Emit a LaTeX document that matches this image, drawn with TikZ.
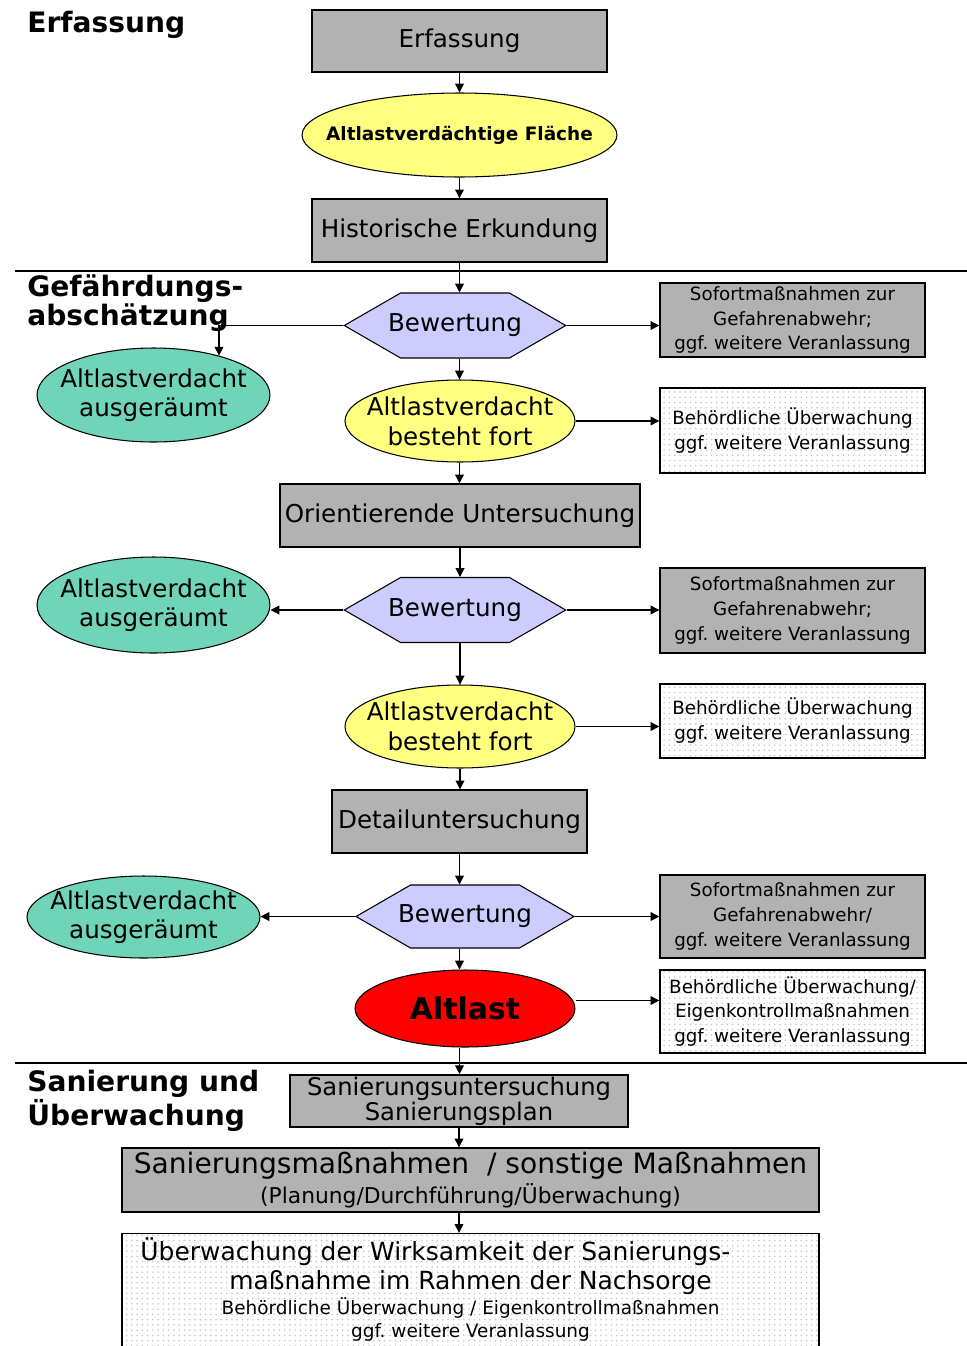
\documentclass[tikz,border=0pt]{standalone}
\usepackage{fontspec}
\setmainfont{DejaVu Sans}
\usetikzlibrary{shapes.geometric,shapes.symbols,arrows.meta,patterns}

\definecolor{boxgray}{RGB}{178,178,178}
\definecolor{ellyellow}{RGB}{255,255,128}
\definecolor{ellgreen}{RGB}{112,212,184}
\definecolor{hexblue}{RGB}{204,204,255}
\definecolor{altred}{RGB}{255,0,0}

\tikzstyle{grau}=[rectangle, draw=black, line width=0.8pt, fill=boxgray, align=center, inner sep=1pt]
\tikzstyle{gepunktet}=[rectangle, draw=black, line width=0.8pt, fill=white,
        postaction={pattern=dots, pattern color=gray!45}, align=center, inner sep=1pt]
\tikzstyle{klein}=[font=\fontsize{10.4}{14.2}\selectfont, minimum width=5.3cm]
\tikzstyle{gelb}=[ellipse, draw=black, line width=0.6pt, fill=ellyellow, align=center,
        inner xsep=-20pt, inner ysep=0pt]
\tikzstyle{gruen}=[ellipse, draw=black, line width=0.6pt, fill=ellgreen, align=center,
        inner xsep=-20pt, inner ysep=0pt, font=\fontsize{14}{16.5}\selectfont, minimum width=4.66cm]
\tikzstyle{bewertung}=[signal, signal to=west and east, signal pointer angle=60, draw=black,
        line width=0.6pt, fill=hexblue, minimum height=1.3cm, inner xsep=-7.1pt, inner ysep=0pt]
\tikzstyle{titel}=[anchor=north west, align=left, inner sep=0pt, font=\bfseries\fontsize{16}{15.5}\selectfont]
\tikzstyle{myarrow}=[-{Triangle[length=5pt,width=5pt]}, line width=0.6pt]
\tikzstyle{trenner}=[-, line width=1.6pt]

\begin{document}
\frenchspacing
\begin{tikzpicture}[x=0.02cm, y=-0.02cm, font=\fontsize{14}{17}\selectfont]
    \useasboundingbox (0,0) rectangle (967,1346);

    % Erfassung
    \node (TitelErfassung) [titel] at (27,11) {Erfassung};
    \node (Erfassung) [grau, minimum width=5.9cm, minimum height=1.24cm] at (459.5,41) {Erfassung};
    \node (Flaeche) [gelb, minimum width=6.3cm, minimum height=1.68cm, font=\bfseries\fontsize{10.5}{12}\selectfont]
        at (459.5,135) {Altlastverdächtige Fläche};
    \node (Historisch) [grau, minimum width=5.9cm, minimum height=1.26cm] at (459.5,230.5) {Historische Erkundung};

    \draw[trenner] (15,271) -- (967,271);

    % Gefaehrdungsabschaetzung
    \node (TitelGefahr) [titel] at (27,274) {Gefährdungs-\\abschätzung};

    \node (Bewertung1) [bewertung] at (455,325.5) {Bewertung};
    \node (Ausgeraeumt1) [gruen, minimum height=1.88cm] at (153.5,395) {Altlastverdacht\\ausgeräumt};
    \node (Sofort1) [grau, klein, minimum height=1.48cm] at (792.5,320)
        {Sofortmaßnahmen zur\\Gefahrenabwehr;\\ggf. weitere Veranlassung};
    \node (Fort1) [gelb, minimum width=4.6cm, minimum height=1.64cm] at (460,421) {Altlastverdacht\\besteht fort};
    \node (Behoerde1) [gepunktet, klein, minimum height=1.7cm] at (792.5,430.5)
        {Behördliche Überwachung\\ggf. weitere Veranlassung};

    \node (Orientierend) [grau, minimum width=7.2cm, minimum height=1.26cm] at (460,515.5) {Orientierende Untersuchung};

    \node (Bewertung2) [bewertung] at (455,610) {Bewertung};
    \node (Ausgeraeumt2) [gruen, minimum height=1.92cm] at (153.5,605) {Altlastverdacht\\ausgeräumt};
    \node (Sofort2) [grau, klein, minimum height=1.7cm] at (792.5,610.5)
        {Sofortmaßnahmen zur\\Gefahrenabwehr;\\ggf. weitere Veranlassung};
    \node (Fort2) [gelb, minimum width=4.6cm, minimum height=1.66cm] at (460,726.5) {Altlastverdacht\\besteht fort};
    \node (Behoerde2) [gepunktet, klein, minimum height=1.48cm] at (792.5,721)
        {Behördliche Überwachung\\ggf. weitere Veranlassung};

    \node (Detail) [grau, minimum width=5.1cm, minimum height=1.26cm] at (459.5,821.5) {Detailuntersuchung};

    \node (Bewertung3) [bewertung, minimum height=1.26cm] at (465,916.5) {Bewertung};
    \node (Ausgeraeumt3) [gruen, minimum height=1.64cm] at (143.5,917) {Altlastverdacht\\ausgeräumt};
    \node (Sofort3) [grau, klein, minimum height=1.66cm] at (792.5,916.5)
        {Sofortmaßnahmen zur\\Gefahrenabwehr/\\ggf. weitere Veranlassung};
    \node (Altlast) [ellipse, draw=black, line width=0.6pt, fill=altred, minimum width=4.4cm, minimum height=1.54cm,
        inner xsep=-20pt, inner ysep=0pt, font=\bfseries\fontsize{17}{20}\selectfont] at (465,1008.5) {Altlast};
    \node (Behoerde3) [gepunktet, klein, minimum height=1.66cm] at (792.5,1011.5)
        {Behördliche Überwachung/\\Eigenkontrollmaßnahmen\\ggf. weitere Veranlassung};

    \draw[trenner] (15,1063) -- (967,1063);

    % Sanierung und Ueberwachung
    \node (TitelSanierung) [titel, font=\bfseries\fontsize{16}{16.5}\selectfont] at (27,1070) {Sanierung und\\Überwachung};
    \node (Untersuchung) [grau, minimum width=6.76cm, minimum height=1.04cm, font=\fontsize{13.8}{13}\selectfont]
        at (459,1101) {Sanierungsuntersuchung\\Sanierungsplan};
    \node (Massnahmen) [grau, minimum width=13.94cm, minimum height=1.28cm] at (470.5,1180)
        {{\fontsize{16}{18}\selectfont Sanierungsmaßnahmen \ / sonstige Maßnahmen}\\
         {\fontsize{12.4}{14}\selectfont (Planung/Durchführung/Überwachung)}};
    \node (Nachsorge) [gepunktet, minimum width=13.94cm, minimum height=2.42cm] at (470.5,1294) {};
    \node (NachsorgeText) [align=center, inner sep=0pt, anchor=north, font=\fontsize{10.5}{13.2}\selectfont]
        at (470.5,1237)
        {{\fontsize{14.2}{16}\selectfont Überwachung der Wirksamkeit der Sanierungs-\hspace*{40pt}}\\[2pt]
         {\fontsize{14.2}{16}\selectfont maßnahme im Rahmen der Nachsorge}\\[1pt]
         Behördliche Überwachung / Eigenkontrollmaßnahmen\\
         ggf. weitere Veranlassung};

    % Pfeile
    \draw[myarrow] (Erfassung.south) -- (Flaeche.north);
    \draw[myarrow] (Flaeche.south) -- (Historisch.north);
    \draw[myarrow] (Historisch.south) -- (Historisch.south |- Bewertung1.north);
    \draw[myarrow] (Bewertung1.west) -| (Ausgeraeumt1.31);
    \draw[myarrow] (Bewertung1.east) -- (Bewertung1.east -| Sofort1.west);
    \draw[myarrow] (Historisch.south |- Bewertung1.south) -- (Historisch.south |- Fort1.north);
    \draw[myarrow] (Fort1.east) -- (Fort1.east -| Behoerde1.west);
    \draw[myarrow] (Historisch.south |- Fort1.south) -- (Historisch.south |- Orientierend.north);

    \draw[myarrow] (Orientierend.south) -- (Orientierend.south |- Bewertung2.north);
    \draw[myarrow] (Bewertung2.west) -- (Bewertung2.west -| Ausgeraeumt2.east);
    \draw[myarrow] (Bewertung2.east) -- (Bewertung2.east -| Sofort2.west);
    \draw[myarrow] (Orientierend.south |- Bewertung2.south) -- (Orientierend.south |- Fort2.north);
    \draw[myarrow] (Fort2.east) -- (Fort2.east -| Behoerde2.west);
    \draw[myarrow] (Orientierend.south |- Fort2.south) -- (Orientierend.south |- Detail.north);

    \draw[myarrow] (Detail.south) -- (Detail.south |- Bewertung3.north);
    \draw[myarrow] (Bewertung3.west) -- (Bewertung3.west -| Ausgeraeumt3.east);
    \draw[myarrow] (Bewertung3.east) -- (Bewertung3.east -| Sofort3.west);
    \draw[myarrow] (Detail.south |- Bewertung3.south) -- (Detail.south |- Altlast.north);
    \draw[myarrow] ([yshift=0.16cm]Altlast.east) -- ([yshift=0.16cm]Altlast.east -| Behoerde3.west);
    \draw[myarrow] (Detail.south |- Altlast.south) -- (Detail.south |- Untersuchung.north);
    \draw[myarrow] (Untersuchung.south) -- (Untersuchung.south |- Massnahmen.north);
    \draw[myarrow] (Untersuchung.south |- Massnahmen.south) -- (Untersuchung.south |- Nachsorge.north);
\end{tikzpicture}
\end{document}
